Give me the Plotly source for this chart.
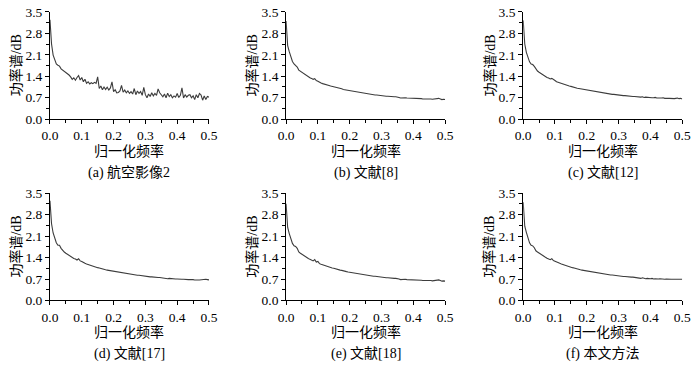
import plotly.graph_objects as go

W, H = 700, 367

# normalized frequency grid (0 to 0.5, step 0.005)
freq = [round(i * 0.005, 3) for i in range(101)]

captions = ["(a) 航空影像2", "(b) 文献[8]", "(c) 文献[12]",
            "(d) 文献[17]", "(e) 文献[18]", "(f) 本文方法"]
x_title = "归一化频率"
y_title = "功率谱/dB"
x_ticks = [0.0, 0.1, 0.2, 0.3, 0.4, 0.5]
y_ticks = [0.0, 0.7, 1.4, 2.1, 2.8, 3.5]

psd_a = [
    3.24, 2.45, 2.09, 1.94, 1.80, 1.76, 1.73, 1.64, 1.60, 1.57,
    1.54, 1.49, 1.44, 1.38, 1.30, 1.35, 1.27, 1.36, 1.42, 1.28,
    1.36, 1.22, 1.30, 1.17, 1.22, 1.15, 1.19, 1.16, 1.20, 1.17,
    1.38, 1.00, 1.08, 0.96, 1.05, 0.97, 1.04, 0.95, 1.02, 1.22,
    0.90, 0.96, 0.86, 0.87, 0.92, 1.10, 0.88, 0.95, 0.86, 0.92,
    0.84, 0.90, 0.82, 1.00, 0.80, 0.92, 0.84, 0.90, 0.78, 1.04,
    0.80, 0.70, 0.82, 0.74, 0.86, 0.76, 0.84, 0.78, 0.99, 0.86,
    0.80, 0.73, 0.82, 0.70, 0.85, 0.74, 0.80, 0.70, 0.76, 0.72,
    0.84, 0.71, 0.78, 1.02, 0.69, 0.80, 0.72, 0.78, 0.80, 0.70,
    0.76, 0.64, 0.80, 0.70, 0.84, 0.79, 0.62, 0.76, 0.64, 0.74,
    0.72,
]
psd_b = [
    3.20, 2.40, 2.20, 2.00, 1.88, 1.80, 1.76, 1.70, 1.60, 1.56,
    1.52, 1.48, 1.44, 1.41, 1.38, 1.35, 1.33, 1.30, 1.32, 1.26,
    1.24, 1.20, 1.18, 1.16, 1.15, 1.13, 1.11, 1.10, 1.08, 1.07,
    1.05, 1.04, 1.02, 1.01, 1.00, 0.99, 0.97, 0.96, 0.95, 0.94,
    0.93, 0.92, 0.91, 0.90, 0.89, 0.88, 0.87, 0.86, 0.85, 0.85,
    0.84, 0.83, 0.82, 0.82, 0.81, 0.80, 0.79, 0.79, 0.78, 0.77,
    0.77, 0.76, 0.76, 0.75, 0.75, 0.74, 0.74, 0.74, 0.73, 0.73,
    0.73, 0.71, 0.69, 0.70, 0.69, 0.70, 0.69, 0.69, 0.68, 0.69,
    0.68, 0.68, 0.67, 0.68, 0.67, 0.67, 0.66, 0.67, 0.66, 0.66,
    0.67, 0.66, 0.65, 0.66, 0.65, 0.66, 0.68, 0.66, 0.64, 0.65,
    0.64,
]
psd_c = [
    3.22, 2.45, 2.18, 2.00, 1.87, 1.80, 1.78, 1.72, 1.62, 1.57,
    1.53, 1.49, 1.46, 1.42, 1.39, 1.36, 1.34, 1.31, 1.33, 1.28,
    1.26, 1.22, 1.20, 1.18, 1.16, 1.14, 1.13, 1.11, 1.10, 1.08,
    1.07, 1.05, 1.04, 1.03, 1.01, 1.00, 0.99, 0.98, 0.97, 0.96,
    0.95, 0.94, 0.93, 0.92, 0.91, 0.90, 0.89, 0.88, 0.87, 0.87,
    0.86, 0.85, 0.84, 0.84, 0.83, 0.82, 0.81, 0.81, 0.80, 0.79,
    0.79, 0.78, 0.78, 0.77, 0.77, 0.76, 0.76, 0.75, 0.75, 0.74,
    0.74, 0.73, 0.73, 0.72, 0.72, 0.73, 0.71, 0.72, 0.71, 0.70,
    0.71, 0.70, 0.70, 0.71, 0.69, 0.70, 0.69, 0.69, 0.70, 0.68,
    0.69, 0.68, 0.68, 0.67, 0.68, 0.67, 0.68, 0.69, 0.67, 0.68,
    0.66,
]
psd_d = [
    3.25, 2.50, 2.20, 2.02, 1.88, 1.80, 1.80, 1.70, 1.62, 1.58,
    1.54, 1.50, 1.46, 1.43, 1.40, 1.37, 1.35, 1.32, 1.36, 1.29,
    1.27, 1.23, 1.21, 1.19, 1.17, 1.15, 1.14, 1.12, 1.10, 1.09,
    1.07, 1.06, 1.04, 1.03, 1.02, 1.00, 0.99, 0.98, 0.97, 0.96,
    0.95, 0.94, 0.93, 0.92, 0.91, 0.90, 0.89, 0.88, 0.87, 0.87,
    0.86, 0.85, 0.84, 0.84, 0.83, 0.82, 0.82, 0.81, 0.80, 0.80,
    0.79, 0.78, 0.78, 0.77, 0.77, 0.76, 0.76, 0.75, 0.75, 0.75,
    0.74, 0.73, 0.71, 0.72, 0.71, 0.72, 0.71, 0.70, 0.71, 0.70,
    0.70, 0.69, 0.70, 0.69, 0.69, 0.68, 0.69, 0.68, 0.68, 0.69,
    0.68, 0.67, 0.68, 0.67, 0.67, 0.68, 0.67, 0.68, 0.69, 0.68,
    0.67,
]
psd_e = [
    3.15, 2.38, 2.18, 1.98, 1.86, 1.78, 1.76, 1.70, 1.58, 1.54,
    1.50, 1.46, 1.43, 1.40, 1.37, 1.34, 1.32, 1.29, 1.33, 1.25,
    1.27, 1.20, 1.18, 1.16, 1.14, 1.12, 1.11, 1.09, 1.08, 1.06,
    1.05, 1.03, 1.02, 1.00, 0.99, 0.98, 0.96, 0.95, 0.94, 0.93,
    0.92, 0.91, 0.90, 0.89, 0.88, 0.87, 0.86, 0.85, 0.84, 0.84,
    0.83, 0.82, 0.81, 0.81, 0.80, 0.79, 0.79, 0.78, 0.77, 0.77,
    0.76, 0.75, 0.75, 0.74, 0.74, 0.73, 0.73, 0.73, 0.72, 0.72,
    0.72, 0.70, 0.68, 0.69, 0.68, 0.69, 0.68, 0.68, 0.67, 0.68,
    0.67, 0.67, 0.66, 0.67, 0.66, 0.66, 0.65, 0.66, 0.65, 0.65,
    0.66, 0.65, 0.64, 0.65, 0.64, 0.65, 0.67, 0.65, 0.63, 0.64,
    0.63,
]
psd_f = [
    3.20, 2.42, 2.22, 2.02, 1.88, 1.80, 1.78, 1.72, 1.62, 1.58,
    1.54, 1.50, 1.47, 1.44, 1.41, 1.38, 1.36, 1.33, 1.36, 1.30,
    1.28, 1.25, 1.23, 1.21, 1.19, 1.17, 1.15, 1.13, 1.12, 1.10,
    1.09, 1.07, 1.06, 1.04, 1.03, 1.02, 1.00, 0.99, 0.98, 0.97,
    0.96, 0.95, 0.94, 0.93, 0.92, 0.91, 0.90, 0.89, 0.88, 0.88,
    0.87, 0.86, 0.85, 0.85, 0.84, 0.83, 0.83, 0.82, 0.81, 0.81,
    0.80, 0.79, 0.79, 0.78, 0.78, 0.77, 0.77, 0.76, 0.76, 0.76,
    0.75, 0.73, 0.72, 0.73, 0.72, 0.74, 0.72, 0.71, 0.72, 0.71,
    0.71, 0.72, 0.70, 0.71, 0.70, 0.70, 0.71, 0.70, 0.70, 0.69,
    0.70, 0.69, 0.70, 0.69, 0.69, 0.70, 0.69, 0.69, 0.70, 0.69,
    0.69,
]
series = [psd_a, psd_b, psd_c, psd_d, psd_e, psd_f]

# layout geometry (pixels)
col_x = [(43, 206), (285, 448), (528, 691)]
row_y = [(5, 117), (194, 306)]

FONT = "Liberation Serif, Times New Roman, Noto Sans CJK SC, serif"
LINE = "#3c3c3c"

fig = go.Figure()
annotations = []
for i, ys in enumerate(series):
    r, c = divmod(i, 3)
    n = i + 1
    xa = "x" if n == 1 else f"x{n}"
    ya = "y" if n == 1 else f"y{n}"
    x0, x1 = col_x[c]
    yt, yb = row_y[r]
    fig.add_trace(go.Scatter(x=freq, y=ys, mode="lines",
                             line=dict(color=LINE, width=1.1),
                             xaxis=xa, yaxis=ya, showlegend=False,
                             hoverinfo="skip"))
    common = dict(showline=True, linecolor="black", linewidth=1,
                  ticks="outside", ticklen=4, tickwidth=1, tickcolor="black",
                  showgrid=False, zeroline=False, fixedrange=True,
                  tickfont=dict(family=FONT, size=13.5, color="black"))
    fig.layout[f"xaxis{'' if n == 1 else n}"] = dict(
        domain=[x0 / W, x1 / W], range=[0, 0.5], anchor=ya,
        tickvals=x_ticks, ticktext=[f"{v:.1f}" for v in x_ticks],
        minor=dict(dtick=0.05, tick0=0, ticks="outside", ticklen=3,
                   tickcolor="black", showgrid=False),
        **common)
    fig.layout[f"yaxis{'' if n == 1 else n}"] = dict(
        domain=[1 - yb / H, 1 - yt / H], range=[0, 3.5], anchor=xa,
        tickvals=y_ticks, ticktext=[f"{v:.1f}" for v in y_ticks],
        minor=dict(dtick=0.35, tick0=0, ticks="outside", ticklen=3,
                   tickcolor="black", showgrid=False),
        **common)
    cx = (x0 + x1) / 2
    annotations.append(dict(text=x_title, x=cx / W, y=1 - (yb + 33) / H,
                            xref="paper", yref="paper", showarrow=False,
                            xanchor="center", yanchor="middle",
                            font=dict(family=FONT, size=14, color="black")))
    annotations.append(dict(text=captions[i], x=cx / W, y=1 - (yb + 56) / H,
                            xref="paper", yref="paper", showarrow=False,
                            xanchor="center", yanchor="middle",
                            font=dict(family=FONT, size=14, color="black")))
    annotations.append(dict(text=y_title, x=(x0 - 35) / W,
                            y=1 - ((yt + yb) / 2) / H,
                            xref="paper", yref="paper", showarrow=False,
                            textangle=-90, xanchor="center", yanchor="middle",
                            font=dict(family=FONT, size=14, color="black")))

fig.update_layout(width=W, height=H, autosize=False,
                  margin=dict(l=0, r=0, t=0, b=0),
                  paper_bgcolor="white", plot_bgcolor="white",
                  annotations=annotations)

fig.write_html("out.html",
               config={"displayModeBar": False, "staticPlot": True},
               post_script="document.body.style.margin='0px';"
                           "document.body.style.overflow='hidden';")
